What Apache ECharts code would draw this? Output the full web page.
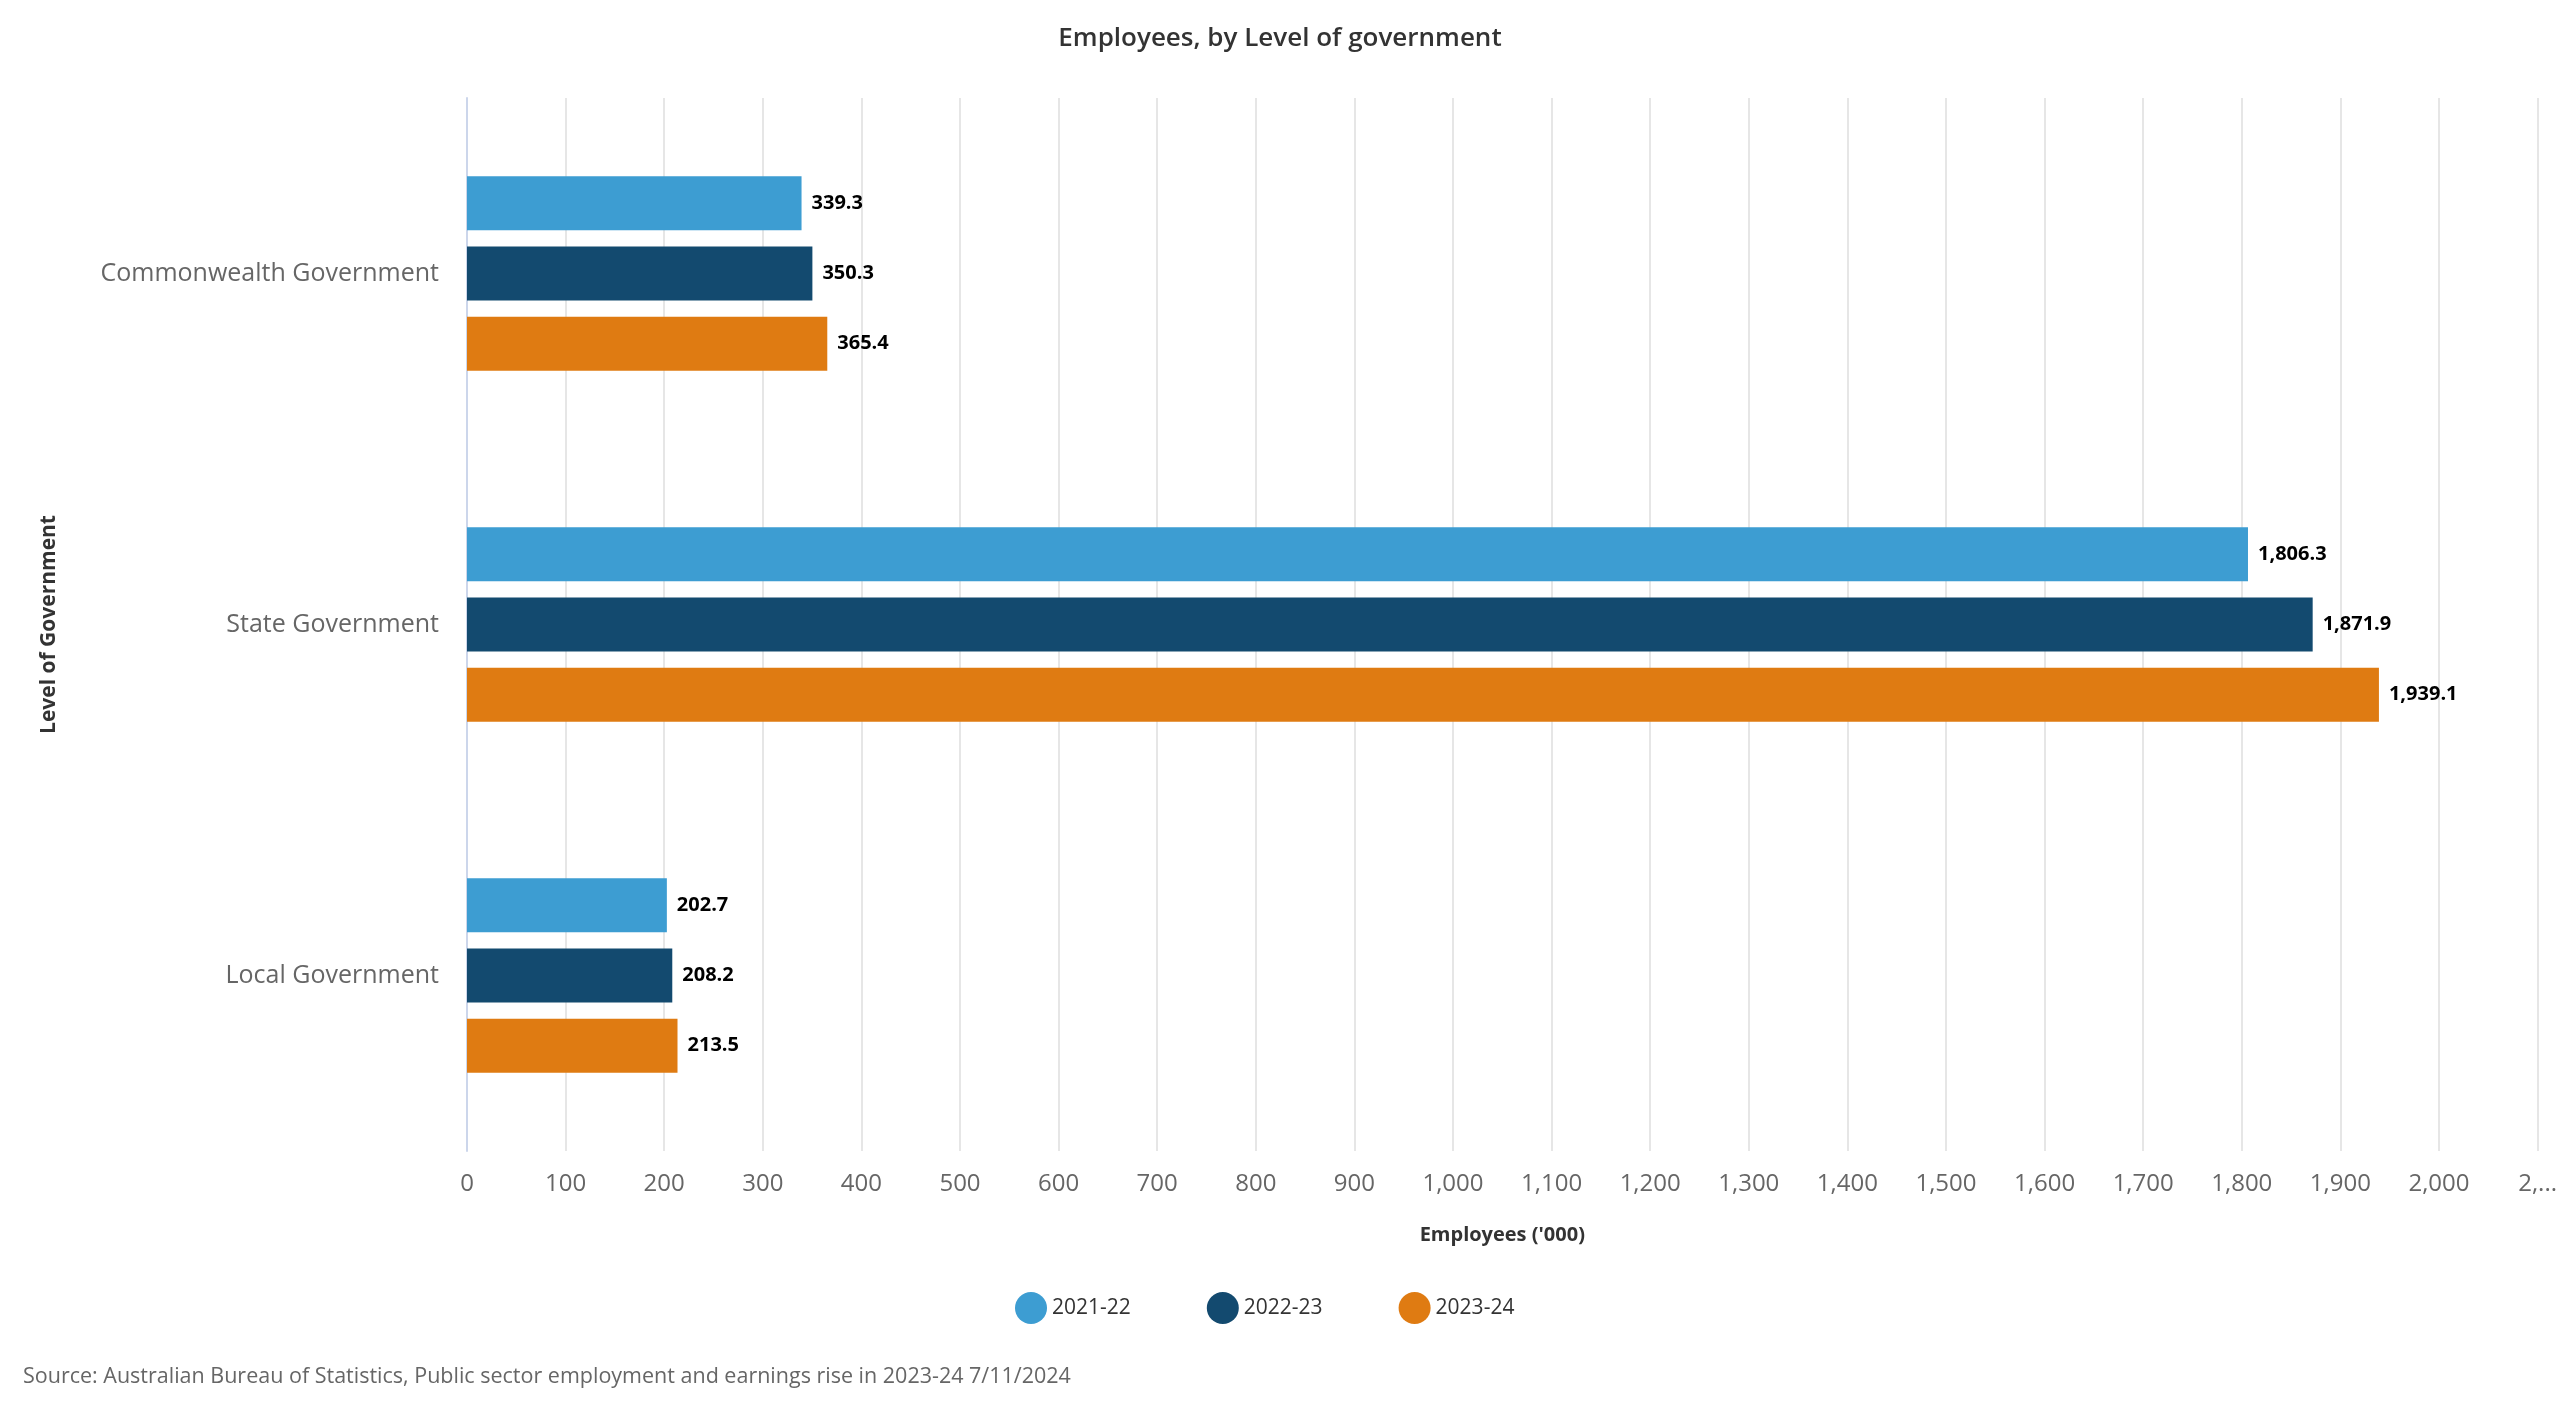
<!DOCTYPE html>
<html>
<head>
<meta charset="utf-8">
<script src="https://cdn.jsdelivr.net/npm/echarts@6/dist/echarts.min.js"></script>
<style>
html,body{margin:0;padding:0;background:#fff;}
#chart{width:2560px;height:1422px;}
</style>
</head>
<body>
<div id="chart"></div>
<script>
const categories = ['Commonwealth Government', 'State Government', 'Local Government'];
const seriesNames = ['2021-22', '2022-23', '2023-24'];
const values2021 = [339.3, 1806.3, 202.7];
const values2022 = [350.3, 1871.9, 208.2];
const values2023 = [365.4, 1939.1, 213.5];
const colors = ['#3d9dd2', '#134a6f', '#df7b12'];
const xMin = 0, xMax = 2100, xStep = 100;

const FONT = '"Open Sans", "Noto Sans", sans-serif';
const fmt = v => v.toLocaleString('en-US', {minimumFractionDigits: 1, maximumFractionDigits: 1});
const fmtTick = v => v === xMax ? '2,...' : v.toLocaleString('en-US');

const allValues = [values2021, values2022, values2023];
const series = seriesNames.map((name, i) => ({
  name: name,
  type: 'bar',
  data: allValues[i],
  barWidth: 54,
  barGap: '30%',
  itemStyle: {color: colors[i]},
  label: {
    show: true,
    position: 'right',
    distance: 10,
    formatter: p => fmt(p.value),
    color: '#000',
    fontWeight: 'bold',
    fontSize: 20,
    fontFamily: FONT
  }
}));

const chart = echarts.init(document.getElementById('chart'));
chart.setOption({
  animation: false,
  backgroundColor: '#fff',
  title: [{
    text: 'Employees, by Level of government',
    left: 'center',
    top: 21,
    textStyle: {fontSize: 26, fontWeight: 600, color: '#333', fontFamily: FONT}
  }, {
    text: 'Source: Australian Bureau of Statistics, Public sector employment and earnings rise in 2023-24 7/11/2024',
    left: 18,
    top: 1361,
    textStyle: {fontSize: 21.5, fontWeight: 'normal', color: '#666', fontFamily: FONT}
  }],
  legend: {
    data: seriesNames,
    bottom: 93,
    left: 1010,
    icon: 'circle',
    itemWidth: 32,
    itemHeight: 32,
    itemGap: 76,
    textStyle: {fontSize: 21, color: '#333', fontFamily: FONT}
  },
  grid: {left: 467, right: 20, top: 98, bottom: 271, containLabel: false},
  xAxis: {
    type: 'value',
    min: xMin,
    max: xMax,
    interval: xStep,
    name: "Employees ('000)",
    nameLocation: 'middle',
    nameGap: 74,
    nameTextStyle: {fontSize: 20, fontWeight: 'bold', color: '#333', fontFamily: FONT},
    axisLine: {show: false},
    axisTick: {show: false},
    splitLine: {lineStyle: {color: '#e6e6e6', width: 2}},
    axisLabel: {formatter: fmtTick, fontSize: 24, color: '#666', margin: 21, fontFamily: FONT}
  },
  yAxis: {
    type: 'category',
    data: categories,
    inverse: true,
    name: 'Level of Government',
    nameLocation: 'middle',
    nameGap: 407,
    nameRotate: 90,
    nameTextStyle: {fontSize: 21, fontWeight: 'bold', color: '#333', fontFamily: FONT},
    axisLine: {show: true, lineStyle: {color: '#ccd6eb', width: 2}},
    axisTick: {show: false},
    axisLabel: {fontSize: 25, color: '#666', margin: 28, fontFamily: FONT}
  },
  series: series
});
</script>
</body>
</html>
